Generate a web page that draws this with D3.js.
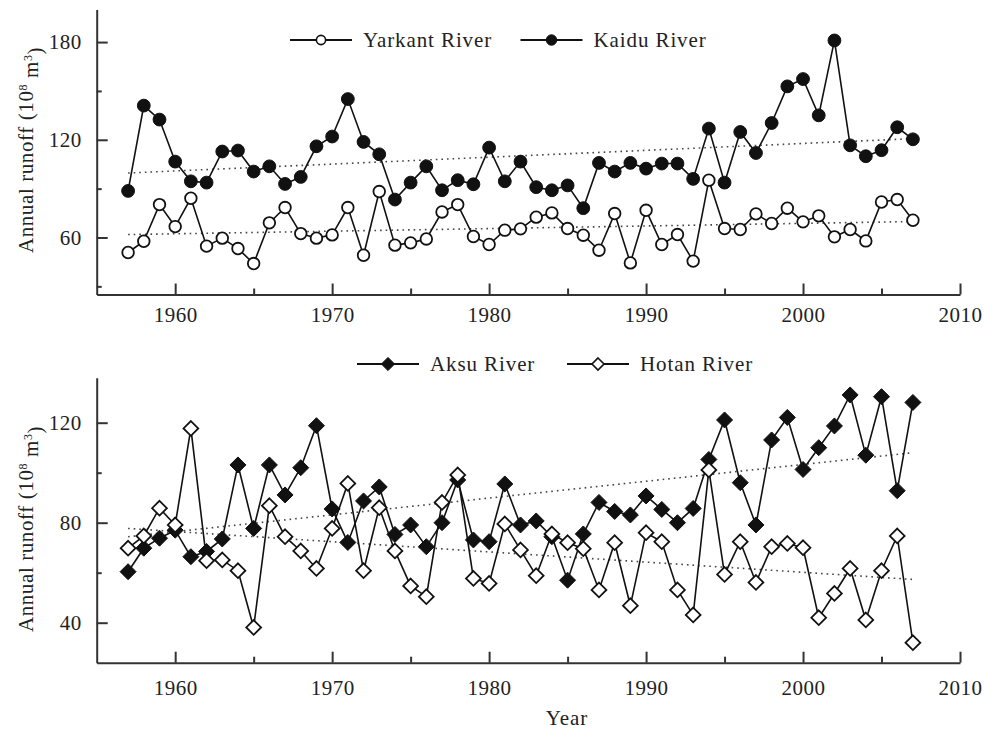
<!DOCTYPE html>
<html>
<head>
<meta charset="utf-8">
<script src="https://cdn.jsdelivr.net/npm/d3@7"></script>
<style>
  body { margin: 0; background: #fff; }
  svg { display: block; font-family: 'Liberation Serif', 'Times New Roman', serif; }
</style>
</head>
<body>
<div id="chart"></div>
<script>
// ---- data ----
const years = [1957, 1958, 1959, 1960, 1961, 1962, 1963, 1964, 1965, 1966, 1967, 1968, 1969,
  1970, 1971, 1972, 1973, 1974, 1975, 1976, 1977, 1978, 1979, 1980, 1981, 1982, 1983, 1984,
  1985, 1986, 1987, 1988, 1989, 1990, 1991, 1992, 1993, 1994, 1995, 1996, 1997, 1998, 1999,
  2000, 2001, 2002, 2003, 2004, 2005, 2006, 2007];

const yarkant = [50.8, 57.7, 80.2, 66.7, 84.1, 54.7, 59.6, 53.2, 44.0, 69.0, 78.4, 62.4, 59.6,
  61.6, 78.4, 49.1, 88.2, 55.3, 56.7, 59.1, 75.7, 80.2, 60.6, 55.7, 64.5, 65.3, 72.5, 75.1,
  65.5, 61.4, 52.2, 74.7, 44.4, 76.7, 55.7, 61.8, 45.5, 95.2, 65.5, 64.9, 74.5, 68.6, 78.0,
  69.6, 73.3, 60.4, 64.9, 57.9, 81.8, 83.3, 70.6];

const kaidu = [88.6, 141, 132.4, 106.6, 94.5, 93.7, 112.8, 113.4, 100.5, 103.7, 92.9, 97.2, 116,
  122, 145, 118.7, 111.1, 83.3, 93.7, 103.7, 89, 95.2, 92.7, 115.2, 94.5, 106.6, 90.9, 89,
  92, 78, 105.8, 100.5, 105.8, 102.3, 105.4, 105.4, 96, 126.9, 93.7, 124.8, 111.9, 130.3, 152.8,
  157.3, 135, 181, 116.6, 109.9, 113.6, 127.7, 120.3];

const aksu = [60.4, 69.8, 73.8, 77, 66.4, 68.5, 73.5, 103.1, 77.7, 103.1, 91.1, 102, 118.8,
  85.5, 72.1, 88.7, 94.3, 75.3, 79.1, 70.4, 80, 97.1, 73.1, 72.4, 95.5, 79.1, 80.7, 74.4,
  57.0, 75.5, 88.1, 84.5, 83.1, 90.7, 85.3, 80, 85.7, 105.3, 121.1, 96, 79.1, 113.1, 122.1,
  101.3, 110, 118.7, 131.1, 107, 130.4, 92.8, 128.1];

const hotan = [69.8, 74.7, 85.8, 79.1, 117.7, 64.8, 65.1, 60.8, 38.1, 86.8, 74.4, 68.7, 61.7,
  77.7, 95.7, 60.8, 86, 68.7, 54.7, 50.4, 88.1, 99.1, 57.7, 55.7, 79.5, 69.1, 58.8, 75.5,
  72, 69.6, 53.1, 72, 46.8, 76, 72.4, 53.1, 43.1, 101.1, 59.3, 72.4, 56.1, 70.4, 71.7,
  70, 42, 51.7, 61.7, 41.1, 60.8, 74.7, 32];

// linear trend lines, [value at 1957, value at 2007]
const trendYears = [1957, 2007];
const yarkantTrend = [61.8, 69.8];
const kaiduTrend = [99.6, 120.7];
const aksuTrend = [74.4, 108];
const hotanTrend = [77.7, 57.3];

const xMajorTicks = [1960, 1970, 1980, 1990, 2000, 2010];
const xMinorTicks = [1965, 1975, 1985, 1995, 2005];
const topMajorTicks = [60, 120, 180];
const topMinorTicks = [30, 90, 150];
const botMajorTicks = [40, 80, 120];
const botMinorTicks = [60, 100];

// ---- layout ----
const W = 984, H = 729;
const svg = d3.select('#chart').append('svg')
  .attr('width', W)
  .attr('height', H);

const x = d3.scaleLinear().domain([1955, 2010]).range([96.7, 960]);
const yTop = d3.scaleLinear().domain([25, 200]).range([294.5, 9.5]);
const yBot = d3.scaleLinear().domain([24, 138]).range([662.7, 377.7]);

const ink = '#111';
const axisInk = '#333';
const fontSize = '21px';

function diamondPath(h) {
  return `M0,${-h}L${h},0L0,${h}L${-h},0Z`;
}

function drawAxes(y, majors, minors, labelPad) {
  const y0 = y.range()[0];

  // x axis (ticks point inward)
  const gx = svg.append('g')
    .attr('transform', 'translate(0,' + y0 + ')')
    .call(d3.axisBottom(x).tickValues(xMajorTicks).tickFormat(d3.format('d'))
      .tickSizeInner(-11).tickSizeOuter(0).tickPadding(labelPad));
  svg.append('g')
    .attr('transform', 'translate(0,' + y0 + ')')
    .call(d3.axisBottom(x).tickValues(xMinorTicks).tickFormat('')
      .tickSizeInner(-6).tickSizeOuter(0))
    .select('.domain').remove();

  // y axis
  const gy = svg.append('g')
    .attr('transform', 'translate(' + x.range()[0] + ',0)')
    .call(d3.axisLeft(y).tickValues(majors)
      .tickSizeInner(-11).tickSizeOuter(0).tickPadding(15));
  svg.append('g')
    .attr('transform', 'translate(' + x.range()[0] + ',0)')
    .call(d3.axisLeft(y).tickValues(minors).tickFormat('')
      .tickSizeInner(-5).tickSizeOuter(0))
    .select('.domain').remove();

  svg.selectAll('.domain, .tick line')
    .attr('stroke', axisInk)
    .attr('stroke-width', 2);
  [gx, gy].forEach(g => g.selectAll('text')
    .style('font-family', "'Liberation Serif', serif")
    .style('font-size', fontSize)
    .style('letter-spacing', '0.5px')
    .attr('fill', '#222'));
}

function drawTrend(y, vals) {
  svg.append('line')
    .attr('x1', x(trendYears[0])).attr('y1', y(vals[0]))
    .attr('x2', x(trendYears[1])).attr('y2', y(vals[1]))
    .attr('stroke', '#444')
    .attr('stroke-width', 1.6)
    .attr('stroke-dasharray', '1.6,4');
}

function drawSeries(y, vals, marker, filled) {
  const pts = years.map((yr, i) => ({ yr: yr, v: vals[i] }));
  const line = d3.line().x(d => x(d.yr)).y(d => y(d.v));

  svg.append('path')
    .datum(pts)
    .attr('d', line)
    .attr('fill', 'none')
    .attr('stroke', ink)
    .attr('stroke-width', 1.6);

  const g = svg.append('g');
  if (marker === 'circle') {
    g.selectAll('circle')
      .data(pts)
      .enter()
      .append('circle')
        .attr('cx', d => x(d.yr))
        .attr('cy', d => y(d.v))
        .attr('r', filled ? 6.4 : 5.8)
        .attr('fill', filled ? ink : '#fff')
        .attr('stroke', ink)
        .attr('stroke-width', filled ? 1 : 1.8);
  } else {
    g.selectAll('path')
      .data(pts)
      .enter()
      .append('path')
        .attr('transform', d => 'translate(' + x(d.yr) + ',' + y(d.v) + ')')
        .attr('d', diamondPath(filled ? 8 : 7.4))
        .attr('fill', filled ? ink : '#fff')
        .attr('stroke', ink)
        .attr('stroke-width', filled ? 1 : 1.8);
  }
}

function legendItem(x0, cy, marker, filled, label) {
  const g = svg.append('g');
  g.append('line')
    .attr('x1', x0).attr('x2', x0 + 62)
    .attr('y1', cy).attr('y2', cy)
    .attr('stroke', ink)
    .attr('stroke-width', 2);
  if (marker === 'circle') {
    g.append('circle')
      .attr('cx', x0 + 31).attr('cy', cy)
      .attr('r', filled ? 5.2 : 4.6)
      .attr('fill', filled ? ink : '#fff')
      .attr('stroke', ink)
      .attr('stroke-width', filled ? 1 : 1.6);
  } else {
    g.append('path')
      .attr('transform', 'translate(' + (x0 + 31) + ',' + cy + ')')
      .attr('d', diamondPath(filled ? 6.6 : 6))
      .attr('fill', filled ? ink : '#fff')
      .attr('stroke', ink)
      .attr('stroke-width', filled ? 1 : 1.6);
  }
  g.append('text')
    .attr('x', x0 + 73)
    .attr('y', cy)
    .attr('dy', '0.33em')
    .style('font-size', fontSize)
    .style('letter-spacing', '0.9px')
    .attr('fill', '#222')
    .text(label);
}

function yTitle(cx, cy) {
  const t = svg.append('text')
    .attr('transform', 'translate(' + cx + ',' + cy + ') rotate(-90)')
    .attr('text-anchor', 'middle')
    .style('font-size', fontSize)
    .style('letter-spacing', '0.6px')
    .attr('fill', '#222');
  t.append('tspan').text('Annual runoff (10');
  t.append('tspan').attr('dy', '-0.5em').style('font-size', '12px').text('8');
  t.append('tspan').attr('dy', '0.5em').text(' m');
  t.append('tspan').attr('dy', '-0.5em').style('font-size', '12px').text('3');
  t.append('tspan').attr('dy', '0.5em').text(')');
}

// ---- top panel: Yarkant & Kaidu ----
drawAxes(yTop, topMajorTicks, topMinorTicks, 13);
drawTrend(yTop, kaiduTrend);
drawTrend(yTop, yarkantTrend);
drawSeries(yTop, kaidu, 'circle', true);
drawSeries(yTop, yarkant, 'circle', false);
legendItem(290, 40, 'circle', false, 'Yarkant River');
legendItem(520.5, 40, 'circle', true, 'Kaidu River');
yTitle(33, 150);

// ---- bottom panel: Aksu & Hotan ----
drawAxes(yBot, botMajorTicks, botMinorTicks, 17);
drawTrend(yBot, aksuTrend);
drawTrend(yBot, hotanTrend);
drawSeries(yBot, aksu, 'diamond', true);
drawSeries(yBot, hotan, 'diamond', false);
legendItem(357, 364, 'diamond', true, 'Aksu River');
legendItem(567, 364, 'diamond', false, 'Hotan River');
yTitle(33, 529);

svg.append('text')
  .attr('x', 567)
  .attr('y', 725)
  .attr('text-anchor', 'middle')
  .style('font-size', fontSize)
  .style('letter-spacing', '0.9px')
  .attr('fill', '#222')
  .text('Year');
</script>
</body>
</html>
